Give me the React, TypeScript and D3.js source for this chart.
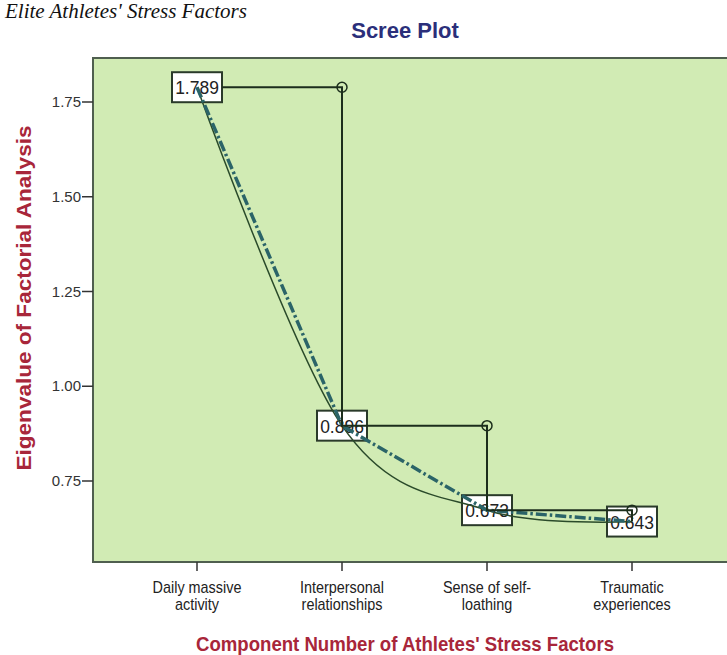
import React, { useEffect, useRef } from 'react';
import * as d3 from 'd3';

const components = [1, 2, 3, 4];
const componentLabels = [
    ['Daily massive', 'activity'],
    ['Interpersonal', 'relationships'],
    ['Sense of self-', 'loathing'],
    ['Traumatic', 'experiences'],
];
const eigenvalues = [1.789, 0.896, 0.673, 0.643];
const valueLabels = ['1.789', '0.896', '0.673', '0.643'];
const yTicks = [0.75, 1.0, 1.25, 1.5, 1.75];

const W = 727;
const H = 655;

const App: React.FC = () => {
    const svgRef = useRef<SVGSVGElement>(null);

    useEffect(() => {
        if (!svgRef.current) return;
        const svg = d3.select(svgRef.current);
        svg.selectAll('*').remove();

        const font = "'Liberation Sans', Arial, sans-serif";
        const x = d3.scaleLinear().domain([1, 4]).range([197, 632]);
        const y = d3.scaleLinear().domain([0.75, 1.75]).range([481, 102]);

        const plot = { left: 93, top: 58, right: 736, bottom: 562 };

        // text with a horizontal squeeze, the original glyphs are narrow
        const label = (parent: any, tx: number, ty: number, txt: string, size: number, sx = 1, anchor = 'middle') =>
            parent.append('text')
                .attr('transform', `translate(${tx}, ${ty}) scale(${sx}, 1)`)
                .attr('text-anchor', anchor)
                .style('font-family', font)
                .style('font-size', `${size}px`)
                .text(txt);

        // page title (cut off at top in the source)
        svg.append('text')
            .attr('x', 5).attr('y', 18)
            .style('font-family', "'Liberation Serif', 'Times New Roman', serif")
            .style('font-style', 'italic')
            .style('font-size', '21px')
            .style('fill', '#111')
            .text("Elite Athletes' Stress Factors");

        label(svg, 405, 38, 'Scree Plot', 22, 1)
            .style('font-weight', 'bold')
            .style('fill', '#2b2f7a');

        // plot background
        svg.append('rect')
            .attr('x', plot.left).attr('y', plot.top)
            .attr('width', plot.right - plot.left)
            .attr('height', plot.bottom - plot.top)
            .attr('fill', '#d1ebb4')
            .attr('stroke', '#4f5f4f')
            .attr('stroke-width', 2);

        // y axis ticks
        const yg = svg.append('g');
        yTicks.forEach(t => {
            yg.append('line')
                .attr('x1', plot.left - 11).attr('x2', plot.left)
                .attr('y1', y(t)).attr('y2', y(t))
                .attr('stroke', '#333').attr('stroke-width', 1.5);
            label(yg, plot.left - 12, y(t) + 5, d3.format('.2f')(t), 15, 1, 'end')
                .style('fill', '#333');
        });

        // x axis ticks
        const xg = svg.append('g');
        components.forEach((c, i) => {
            xg.append('line')
                .attr('x1', x(c)).attr('x2', x(c))
                .attr('y1', plot.bottom).attr('y2', plot.bottom + 9)
                .attr('stroke', '#333').attr('stroke-width', 1.5);
            componentLabels[i].forEach((l, j) => {
                label(xg, x(c), 593 + j * 17, l, 16, 0.9).style('fill', '#222');
            });
        });

        // axis titles
        svg.append('text')
            .attr('x', 405).attr('y', 651)
            .attr('text-anchor', 'middle')
            .attr('textLength', 418)
            .attr('lengthAdjust', 'spacingAndGlyphs')
            .style('font-family', font)
            .style('font-weight', 'bold')
            .style('font-size', '21px')
            .style('fill', '#a8263a')
            .text("Component Number of Athletes' Stress Factors");

        svg.append('text')
            .attr('transform', 'translate(31, 298) rotate(-90)')
            .attr('text-anchor', 'middle')
            .attr('textLength', 345)
            .attr('lengthAdjust', 'spacingAndGlyphs')
            .style('font-family', font)
            .style('font-weight', 'bold')
            .style('font-size', '21px')
            .style('fill', '#a8263a')
            .text('Eigenvalue of Factorial Analysis');

        // value boxes (lines are drawn over them, like the source)
        components.forEach((c, i) => {
            const g = svg.append('g').attr('transform', `translate(${x(c)}, ${y(eigenvalues[i])})`);
            g.append('rect')
                .attr('x', -25).attr('y', -15)
                .attr('width', 50).attr('height', 30)
                .attr('fill', 'white')
                .attr('stroke', '#2a3a2a')
                .attr('stroke-width', 2);
            label(g, 0, 7, valueLabels[i], 19, 0.92).style('fill', '#222');
        });

        const pts: [number, number][] = components.map((c, i) => [x(c), y(eigenvalues[i])]);

        // smooth fitted curve
        svg.append('path')
            .attr('d', d3.line().curve(d3.curveCardinal.tension(0))(pts))
            .attr('fill', 'none')
            .attr('stroke', '#2a4a2a')
            .attr('stroke-width', 1.5);

        // dash-dot line
        svg.append('path')
            .attr('d', d3.line()(pts))
            .attr('fill', 'none')
            .attr('stroke', '#2b6468')
            .attr('stroke-width', 3.5)
            .attr('stroke-dasharray', '11,3,2.5,3');

        // step line with circle markers
        const steps: [number, number][] = [];
        components.forEach((c, i) => {
            steps.push([x(c) + (i === 0 ? 25 : 0), y(eigenvalues[i])]);
            if (i < components.length - 1) steps.push([x(components[i + 1]), y(eigenvalues[i])]);
        });
        svg.append('path')
            .attr('d', d3.line()(steps))
            .attr('fill', 'none')
            .attr('stroke', '#1c2e1c')
            .attr('stroke-width', 2);
        components.slice(1).forEach((c, i) => {
            svg.append('circle')
                .attr('cx', x(c)).attr('cy', y(eigenvalues[i]))
                .attr('r', 5)
                .attr('fill', 'none')
                .attr('stroke', '#1c2e1c')
                .attr('stroke-width', 1.5);
        });
    }, []);

    return (
        <svg
            ref={svgRef}
            width={W}
            height={H}
            style={{ position: 'absolute', left: 0, top: 0, background: 'white' }}
        ></svg>
    );
};

export default App;
